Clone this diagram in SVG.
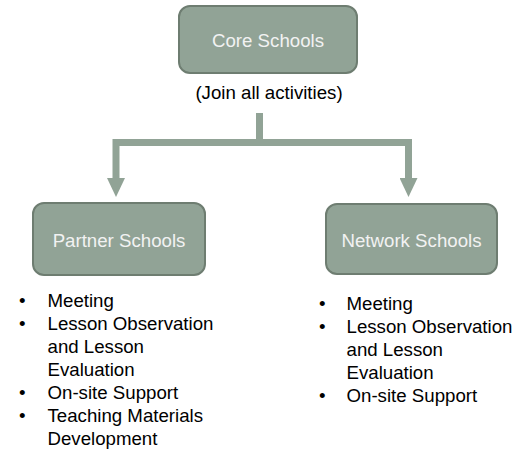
<svg xmlns="http://www.w3.org/2000/svg" width="523" height="451" viewBox="0 0 523 451">
  <style>
    .box { fill: #91A396; stroke: #6E7D71; stroke-width: 2; }
    .boxtxt { font-family: "Liberation Sans", Arial, sans-serif; font-size: 18.67px; fill: #F2F2F2; text-anchor: middle; }
    .txt { font-family: "Liberation Sans", Arial, sans-serif; font-size: 18.67px; fill: #000000; }
    .conn { fill: none; stroke: #91A396; stroke-width: 7; stroke-linejoin: miter; }
  </style>
  <defs>
    <marker id="arrow" viewBox="0 0 19 18" markerWidth="19" markerHeight="18" markerUnits="userSpaceOnUse" refX="0" refY="9" orient="auto">
      <path d="M0,0 L19,9 L0,18 Z" fill="#91A396"/>
    </marker>
  </defs>
  <rect width="523" height="451" fill="#FFFFFF"/>

  <g id="connectors">
    <path class="conn" d="M259.5,113 V142.5 H116 V178" marker-end="url(#arrow)"/>
    <path class="conn" d="M259.5,142.5 H408.5 V178" marker-end="url(#arrow)"/>
  </g>

  <g id="core">
    <rect class="box" x="179" y="6" width="178" height="67" rx="11"/>
    <text class="boxtxt" x="268" y="47">Core Schools</text>
  </g>
  <text class="txt" x="269" y="99" text-anchor="middle">(Join all activities)</text>

  <g id="partner">
    <rect class="box" x="33" y="203" width="172" height="72" rx="11"/>
    <text class="boxtxt" x="119" y="247">Partner Schools</text>
  </g>

  <g id="network">
    <rect class="box" x="326" y="204" width="171" height="70" rx="11"/>
    <text class="boxtxt" x="411.5" y="247">Network Schools</text>
  </g>

  <g id="partner-list" class="txt">
    <text x="19" y="307">•</text><text x="47.5" y="307">Meeting</text>
    <text x="19" y="330">•</text><text x="47.5" y="330">Lesson Observation</text>
    <text x="47.5" y="353">and Lesson</text>
    <text x="47.5" y="376">Evaluation</text>
    <text x="19" y="399">•</text><text x="47.5" y="399">On-site Support</text>
    <text x="19" y="422">•</text><text x="47.5" y="422">Teaching Materials</text>
    <text x="47.5" y="445">Development</text>
  </g>

  <g id="network-list" class="txt">
    <text x="319" y="310">•</text><text x="346.5" y="310">Meeting</text>
    <text x="319" y="333">•</text><text x="346.5" y="333">Lesson Observation</text>
    <text x="346.5" y="356">and Lesson</text>
    <text x="346.5" y="379">Evaluation</text>
    <text x="319" y="402">•</text><text x="346.5" y="402">On-site Support</text>
  </g>
</svg>
